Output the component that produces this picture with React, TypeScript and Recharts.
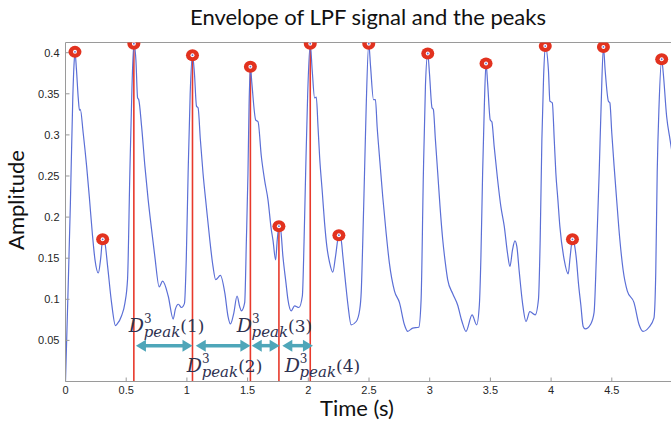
import { ComposedChart, Line, Scatter, XAxis, YAxis, ReferenceLine, ReferenceDot } from 'recharts';

// envelope samples (time in s, amplitude)
const SIG_T = [
  0.0, 0.02, 0.04, 0.06, 0.07, 0.078, 0.09, 0.105, 0.115, 0.122, 0.146, 0.174, 0.196, 0.221, 0.243, 0.27, 0.29,
  0.306, 0.325, 0.347, 0.38, 0.412, 0.426, 0.462, 0.489, 0.511, 0.53, 0.547, 0.563, 0.58, 0.594, 0.603, 0.627,
  0.654, 0.681, 0.709, 0.736, 0.772, 0.8, 0.846, 0.887, 0.905, 0.93, 0.955, 0.98, 0.995, 1.01, 1.027, 1.046,
  1.062, 1.079, 1.092, 1.111, 1.133, 1.16, 1.188, 1.215, 1.237, 1.276, 1.312, 1.339, 1.359, 1.386, 1.413, 1.435,
  1.449, 1.476, 1.49, 1.503, 1.512, 1.523, 1.535, 1.567, 1.586, 1.613, 1.64, 1.668, 1.695, 1.709, 1.731, 1.744,
  1.758, 1.772, 1.791, 1.816, 1.832, 1.86, 1.887, 1.923, 1.951, 1.965, 1.978, 1.995, 2.016, 2.032, 2.052, 2.066,
  2.08, 2.093, 2.116, 2.134, 2.153, 2.175, 2.202, 2.224, 2.252, 2.271, 2.285, 2.307, 2.326, 2.353, 2.395, 2.423,
  2.436, 2.449, 2.463, 2.477, 2.498, 2.513, 2.537, 2.553, 2.567, 2.586, 2.613, 2.641, 2.668, 2.71, 2.751, 2.792,
  2.819, 2.86, 2.91, 2.929, 2.948, 2.965, 2.984, 2.998, 3.019, 3.03, 3.047, 3.066, 3.085, 3.107, 3.129, 3.148,
  3.189, 3.23, 3.266, 3.299, 3.349, 3.387, 3.409, 3.422, 3.436, 3.45, 3.464, 3.477, 3.499, 3.512, 3.531, 3.559,
  3.586, 3.614, 3.641, 3.661, 3.682, 3.702, 3.718, 3.738, 3.765, 3.793, 3.825, 3.869, 3.896, 3.91, 3.924, 3.938,
  3.952, 3.978, 3.99, 4.01, 4.026, 4.039, 4.056, 4.072, 4.108, 4.141, 4.157, 4.176, 4.19, 4.209, 4.225, 4.245,
  4.264, 4.281, 4.327, 4.354, 4.373, 4.396, 4.412, 4.431, 4.445, 4.472, 4.484, 4.5, 4.519, 4.538, 4.566, 4.593,
  4.628, 4.683, 4.725, 4.757, 4.806, 4.847, 4.862, 4.874, 4.889, 4.911, 4.924, 4.952, 4.98, 5.0,
];
const SIG_A = [
  0.0, 0.105, 0.215, 0.345, 0.385, 0.401, 0.38, 0.345, 0.33, 0.331, 0.302, 0.262, 0.225, 0.18, 0.148, 0.132, 0.15,
  0.173, 0.168, 0.14, 0.095, 0.068, 0.07, 0.08, 0.095, 0.124, 0.253, 0.355, 0.411, 0.391, 0.345, 0.343, 0.31,
  0.262, 0.221, 0.185, 0.152, 0.115, 0.122, 0.104, 0.076, 0.088, 0.094, 0.09, 0.095, 0.15, 0.253, 0.35, 0.397,
  0.375, 0.335, 0.333, 0.294, 0.253, 0.213, 0.173, 0.14, 0.124, 0.129, 0.108, 0.079, 0.07, 0.083, 0.104, 0.091,
  0.086, 0.096, 0.172, 0.253, 0.335, 0.383, 0.363, 0.318, 0.316, 0.274, 0.245, 0.221, 0.185, 0.172, 0.148, 0.172,
  0.189, 0.185, 0.152, 0.12, 0.1, 0.086, 0.092, 0.09, 0.104, 0.17, 0.253, 0.35, 0.411, 0.379, 0.345, 0.346,
  0.31, 0.274, 0.229, 0.193, 0.164, 0.145, 0.133, 0.152, 0.178, 0.172, 0.152, 0.12, 0.094, 0.069, 0.073, 0.087,
  0.109, 0.172, 0.253, 0.335, 0.411, 0.383, 0.343, 0.343, 0.31, 0.274, 0.225, 0.181, 0.144, 0.11, 0.096, 0.069,
  0.061, 0.065, 0.066, 0.099, 0.253, 0.36, 0.399, 0.375, 0.333, 0.331, 0.294, 0.254, 0.213, 0.173, 0.144, 0.124,
  0.107, 0.093, 0.073, 0.061, 0.081, 0.069, 0.093, 0.152, 0.254, 0.335, 0.387, 0.363, 0.318, 0.316, 0.286, 0.246,
  0.213, 0.189, 0.156, 0.14, 0.16, 0.171, 0.164, 0.133, 0.095, 0.073, 0.085, 0.081, 0.1, 0.172, 0.294, 0.37,
  0.408, 0.379, 0.341, 0.339, 0.294, 0.254, 0.221, 0.189, 0.148, 0.131, 0.152, 0.173, 0.168, 0.148, 0.12, 0.093,
  0.067, 0.064, 0.07, 0.084, 0.152, 0.254, 0.335, 0.407, 0.379, 0.341, 0.339, 0.302, 0.262, 0.225, 0.173, 0.136,
  0.11, 0.096, 0.069, 0.061, 0.066, 0.077, 0.132, 0.254, 0.335, 0.392, 0.375, 0.322, 0.294, 0.275,
];

// detected peaks
const PEAK_T = [0.078, 0.306, 0.563, 1.046, 1.523, 1.758, 2.016, 2.252, 2.498, 2.984, 3.464, 3.952, 4.176, 4.431, 4.911];
const PEAK_A = [0.401, 0.173, 0.411, 0.397, 0.383, 0.189, 0.411, 0.178, 0.411, 0.399, 0.387, 0.408, 0.173, 0.407, 0.392];

// peaks with red guide lines
const GUIDE_T = [0.563, 1.046, 1.523, 1.758, 2.016];
const GUIDE_A = [0.411, 0.397, 0.383, 0.189, 0.411];

// D_peak arrows and labels
const ARROW_FROM = [0.58, 1.073, 1.534, 1.786];
const ARROW_TO = [1.046, 1.523, 1.764, 2.038];
const ARROW_A = 0.0436;
const LABEL_N = ['1', '2', '3', '4'];
const LABEL_T = [0.522, 0.999, 1.41, 1.805];
const LABEL_A = [0.06, 0.0116, 0.06, 0.0116];

const X_TICKS = [0, 0.5, 1, 1.5, 2, 2.5, 3, 3.5, 4, 4.5];
const Y_TICKS = [0.05, 0.1, 0.15, 0.2, 0.25, 0.3, 0.35, 0.4];

const signal = SIG_T.map((t, i) => ({ t, a: SIG_A[i] }));
const peaks = PEAK_T.map((t, i) => ({ t, a: PEAK_A[i] }));

const AXIS = '#9a9a9a';
const tickStyle = { fontSize: 11, fill: '#262626', fontFamily: 'Liberation Sans, Arial, sans-serif' };

const PeakMarker = (props: any) => {
  const { cx, cy } = props;
  return (
    <g>
      <ellipse cx={cx} cy={cy} rx={6.5} ry={6} fill="#e2321f" />
      <circle cx={cx} cy={cy} r={2} fill="#ffffff" />
      <circle cx={cx} cy={cy} r={0.9} fill="#5b6fd6" />
    </g>
  );
};

const ArrowShape = (props: any) => {
  const { x1, y1, x2 } = props;
  const y = y1;
  const hl = 10;
  const hw = 6;
  return (
    <g fill="#4ea6b9">
      <line x1={x1 + hl - 1} y1={y} x2={x2 - hl + 1} y2={y} stroke="#4ea6b9" strokeWidth={3.5} />
      <polygon points={`${x1},${y} ${x1 + hl},${y - hw} ${x1 + hl},${y + hw}`} />
      <polygon points={`${x2},${y} ${x2 - hl},${y - hw} ${x2 - hl},${y + hw}`} />
    </g>
  );
};

const makeLabel = (n: string) => (props: any) => {
  const { cx, cy } = props;
  return (
    <text x={cx} y={cy} fill="#2e3150" fontFamily="DejaVu Serif, serif">
      <tspan fontStyle="italic" fontSize={19}>D</tspan>
      <tspan fontSize={12} dy={-9}>3</tspan>
      <tspan fontStyle="italic" fontSize={15} dx={-8} dy={14}>peak</tspan>
      <tspan fontSize={17} dy={-5}>({n})</tspan>
    </text>
  );
};

export default function App() {
  return (
    <div style={{ position: 'absolute', left: 0, top: 0, width: 671, height: 426, overflow: 'hidden', background: '#fff' }}>
      <ComposedChart width={680} height={426} margin={{ top: 41.5, right: 0, bottom: 0, left: 0 }}>
        <XAxis
          dataKey="t"
          type="number"
          domain={[0, 5]}
          ticks={X_TICKS}
          stroke={AXIS}
          tickSize={-4}
          tickMargin={9}
          tick={tickStyle}
          height={44.5}
          allowDataOverflow
        />
        <XAxis
          xAxisId="top"
          orientation="top"
          type="number"
          domain={[0, 5]}
          ticks={X_TICKS}
          stroke={AXIS}
          tickSize={-4}
          tick={false}
          height={1}
        />
        <YAxis
          type="number"
          domain={[0, 0.4124]}
          ticks={Y_TICKS}
          stroke={AXIS}
          tickSize={-4}
          tickMargin={10}
          tick={tickStyle}
          width={65.5}
          allowDataOverflow
        />
        <YAxis
          yAxisId="right"
          orientation="right"
          type="number"
          domain={[0, 0.4124]}
          ticks={Y_TICKS}
          stroke={AXIS}
          tickSize={-4}
          tick={false}
          width={7.5}
        />
        {GUIDE_T.map((t, i) => (
          <ReferenceLine
            key={`g${i}`}
            segment={[{ x: t, y: 0 }, { x: t, y: GUIDE_A[i] }]}
            stroke="#e8392b"
            strokeWidth={1.6}
          />
        ))}
        <Line
          data={signal}
          dataKey="a"
          type="monotone"
          stroke="#5b6fd6"
          strokeWidth={1.2}
          dot={false}
          isAnimationActive={false}
        />
        <Scatter data={peaks} dataKey="a" shape={PeakMarker} isAnimationActive={false} />
        {ARROW_FROM.map((t, i) => (
          <ReferenceLine
            key={`a${i}`}
            segment={[{ x: t, y: ARROW_A }, { x: ARROW_TO[i], y: ARROW_A }]}
            shape={ArrowShape}
          />
        ))}
        {LABEL_N.map((n, i) => (
          <ReferenceDot key={`l${i}`} x={LABEL_T[i]} y={LABEL_A[i]} shape={makeLabel(n)} />
        ))}
        <text x={368} y={25} textAnchor="middle" fontFamily="Lato, sans-serif" fontSize={22} fill="#111">
          Envelope of LPF signal and the peaks
        </text>
        <text x={357} y={416} textAnchor="middle" fontFamily="Lato, sans-serif" fontSize={22} fill="#111">
          Time (s)
        </text>
        <text
          x={24}
          y={200}
          textAnchor="middle"
          transform="rotate(-90 24 200)"
          fontFamily="Lato, sans-serif"
          fontSize={22}
          fill="#111"
        >
          Amplitude
        </text>
      </ComposedChart>
    </div>
  );
}
